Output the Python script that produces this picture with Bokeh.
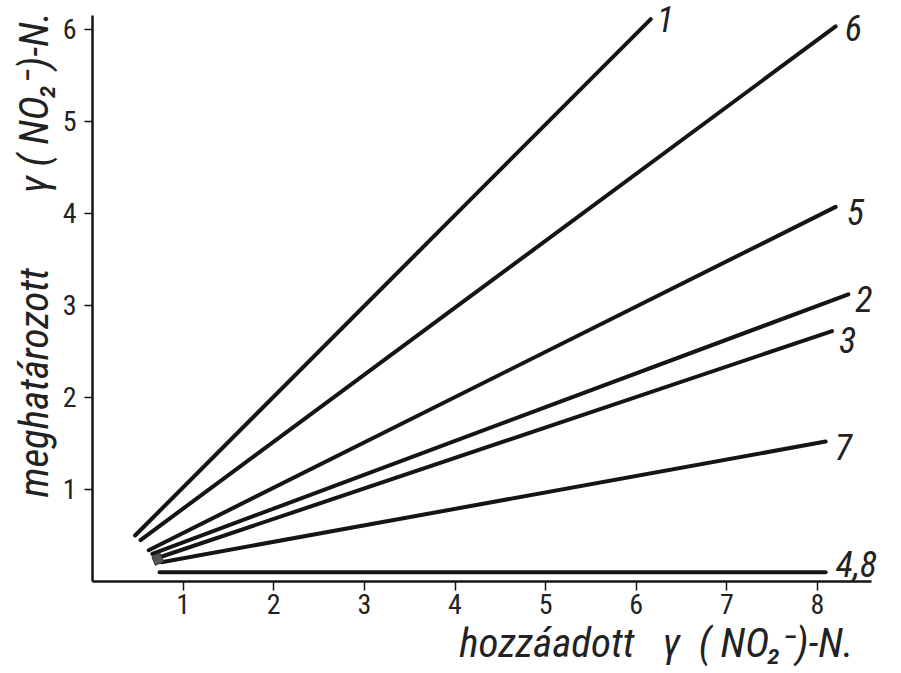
from bokeh.plotting import figure
from bokeh.models import ColumnDataSource, Range1d, FixedTicker, Title
from bokeh.core.properties import value
from bokeh.embed import file_html
from bokeh.resources import INLINE

# ---- data ----
series = ["1", "6", "5", "2", "3", "7", "4,8"]
x_start = [0.47, 0.53, 0.62, 0.66, 0.70, 0.76, 0.74]
y_start = [0.50, 0.45, 0.34, 0.30, 0.25, 0.21, 0.10]
x_end = [6.16, 8.20, 8.20, 8.34, 8.16, 8.09, 8.09]
y_end = [6.11, 6.03, 4.07, 3.12, 2.72, 1.52, 0.10]
origin_x = [0.72]
origin_y = [0.24]
x_ticks = [1, 2, 3, 4, 5, 6, 7, 8]
y_ticks = [1, 2, 3, 4, 5, 6]
NB = "\u00a0"
x_title = "hozzáadott" + NB * 3 + "γ" + NB * 2 + "(" + NB + "NO₂⁻)-N."
y_title = NB * 8 + "meghatározott" + NB * 7 + " γ ( NO₂⁻)-N."

# label placement styles (pixels), one per series
label_dx = [6, 9, 11, 7, 7, 9, 10]
label_dy = [0, 2, 5, 5, 9, 5, -8]

FONT = "Roboto Condensed"
INK = "#151515"

p = figure(width=885, height=673, output_backend="svg", toolbar_location=None,
           x_range=Range1d(0, 8.75), y_range=Range1d(0, 6.29),
           min_border_left=92, min_border_right=0, min_border_top=2, min_border_bottom=92)
p.background_fill_color = "white"
p.border_fill_color = "white"
p.outline_line_color = None
p.grid.visible = False

for ax in (p.xaxis[0], p.yaxis[0]):
    ax.axis_line_color = INK
    ax.axis_line_width = 2.5
    ax.major_tick_line_color = INK
    ax.major_tick_line_width = 1.5
    ax.minor_tick_line_color = None
    ax.major_tick_in = 0
    ax.major_label_text_font = FONT
    ax.major_label_text_color = "#222222"
    ax.major_label_text_font_size = "28px"

p.xaxis[0].ticker = FixedTicker(ticks=x_ticks)
p.yaxis[0].ticker = FixedTicker(ticks=y_ticks)
p.xaxis[0].bounds = (0, 8.6)
p.yaxis[0].bounds = (0, 6.15)
p.xaxis[0].major_tick_out = 9
p.yaxis[0].major_tick_out = 8
p.xaxis[0].major_label_standoff = 3
p.yaxis[0].major_label_standoff = 8

p.yaxis[0].axis_label = y_title
p.yaxis[0].axis_label_text_font = FONT
p.yaxis[0].axis_label_text_font_style = "italic"
p.yaxis[0].axis_label_text_font_size = "41px"
p.yaxis[0].axis_label_text_color = "#222222"
p.yaxis[0].axis_label_standoff = 2

p.add_layout(Title(text=x_title, align="right", offset=32, standoff=0,
                   text_font=FONT, text_font_style="italic", text_font_size="41px",
                   text_color="#222222"), "below")

src = ColumnDataSource(dict(x0=x_start, y0=y_start, x1=x_end, y1=y_end, name=series,
                            dx=label_dx, dy=label_dy))
p.segment(x0="x0", y0="y0", x1="x1", y1="y1", source=src,
          line_color=INK, line_width=4, line_cap="round")

p.scatter(origin_x, origin_y, marker="square", size=9, angle=0.4,
          fill_color="#555555", line_color="#333333")

p.text(x="x1", y="y1", text="name", source=src, x_offset="dx", y_offset="dy",
       text_font=value(FONT), text_font_style="italic", text_font_size="36px",
       text_color="#222222", text_align="left", text_baseline="middle")

open("out.html", "w").write(file_html(p, INLINE))
